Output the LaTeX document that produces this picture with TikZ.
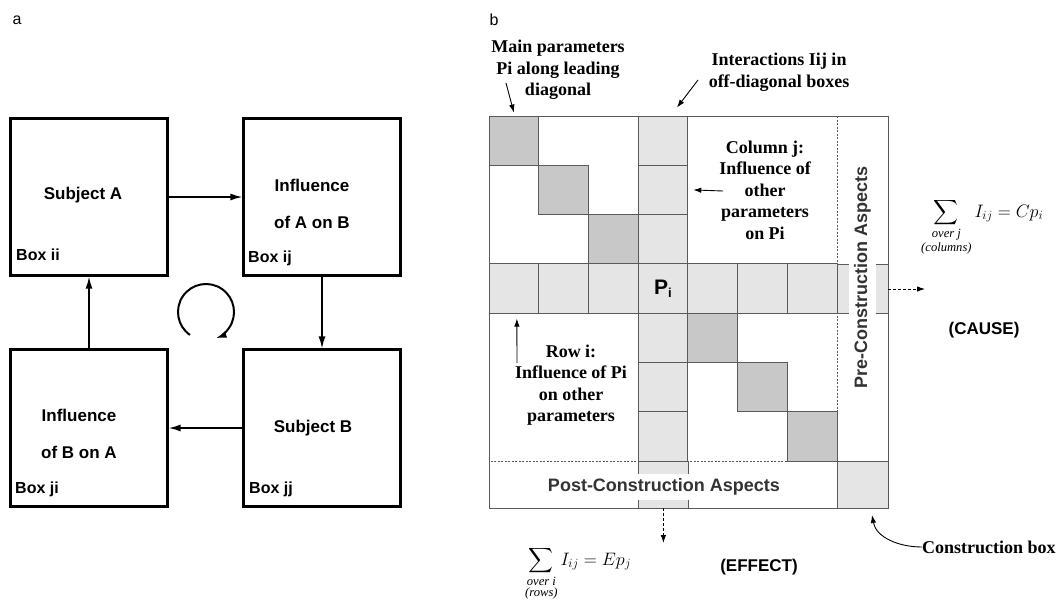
\RequirePackage{fix-cm}
\documentclass[tikz,border=0pt]{standalone}
\usepackage{amsmath}
\usepackage{exscale}
\usepackage{fontspec}
\setmainfont{Liberation Serif}
\setsansfont{Liberation Sans}
\usepackage{tikz}
\usetikzlibrary{arrows.meta}
\definecolor{darkcell}{RGB}{200,200,200}
\definecolor{litecell}{RGB}{229,229,229}
\definecolor{linecol}{RGB}{90,90,90}
\newcommand\gridcell[5]{\node[#4] (#1) at ({489+49.71*(#2+0.5)},{116+49.29*(#3+0.5)}) {#5};}
\newcommand\link[2]{\draw[boxarr] (#1) -- (#2);}

\begin{document}
\begin{tikzpicture}[x=1pt,y=-1pt]
\tikzstyle{bigbox}=[draw,line width=2.2pt,minimum size=157pt,inner sep=0pt]
\tikzstyle{boxtxt}=[font=\sffamily\bfseries\fontsize{17}{37}\selectfont,align=center,inner sep=0pt]
\tikzstyle{boxlbl}=[font=\sffamily\bfseries\fontsize{16}{16}\selectfont,anchor=west,inner sep=0pt]
\tikzstyle{boxarr}=[line width=1.6pt,-{Latex[length=12pt,width=7pt]}]
\tikzstyle{diag}=[draw=linecol,line width=0.9pt,fill=darkcell,minimum width=49.71pt,minimum height=49.29pt,inner sep=0pt]
\tikzstyle{cross}=[diag,fill=litecell]
\tikzstyle{note}=[font=\bfseries\fontsize{18}{21.5}\selectfont,align=center,inner sep=0pt]
\tikzstyle{aspect}=[font=\sffamily\bfseries\fontsize{18}{18}\selectfont,text=black!80,fill=white,inner xsep=4pt,inner ysep=5pt]
\tikzstyle{thinarr}=[line width=0.9pt,-{Latex[length=8pt,width=5.5pt]}]
\tikzstyle{dasharr}=[line width=0.9pt,dash pattern=on 3pt off 2pt,-{Latex[length=8pt,width=5.5pt]}]
\tikzstyle{tag}=[font=\sffamily\bfseries\fontsize{17}{17}\selectfont]
\tikzstyle{sumf}=[anchor=base west,inner sep=0pt,font=\fontsize{18}{20}\selectfont]
\useasboundingbox (0,0) rectangle (1060,603);

% panel a
\node[font=\sffamily\fontsize{16}{16}\selectfont] (taga) at (17,20) {a};
\node[bigbox] (ii) at (89,197) {};
\node[bigbox] (ij) at (322,197) {};
\node[bigbox] (jj) at (322,428) {};
\node[bigbox] (ji) at (89,428) {};
\node[boxtxt] (suba) at (83,195) {Subject A};
\node[boxtxt] (infab) at (312,203.5) {Influence\\of A on B};
\node[boxtxt] (subb) at (313,428) {Subject B};
\node[boxtxt] (infba) at (79,433.5) {Influence\\of B on A};
\node[boxlbl] (lii) at (16,255) {Box ii};
\node[boxlbl] (lij) at (248,258) {Box ij};
\node[boxlbl] (lji) at (15,489) {Box ji};
\node[boxlbl] (ljj) at (249,489) {Box jj};
\link{ii}{ij}
\link{ij}{jj}
\link{jj}{ji}
\link{ji}{ii}
\draw[line width=2pt,-{Latex[length=11pt,width=7pt]}] (206,312) ++(-235:28) arc[start angle=-235,end angle=70,radius=28];

% panel b
\node[font=\sffamily\fontsize{16}{16}\selectfont] (tagb) at (494,20) {b};
\node[draw=linecol,line width=0.9pt,minimum width=399pt,minimum height=392pt,inner sep=0pt] (mat) at (688.5,312) {};
\fill[litecell] (837,264) rectangle (888,313);
\fill[litecell] (638.4,461) rectangle (688.1,508);
\draw[linecol,line width=0.9pt] (837,264) -- (888,264) (837,313) -- (888,313)
  (638.4,461) -- (638.4,508) (688.1,461) -- (688.1,508);
\draw[linecol,line width=0.9pt,dash pattern=on 2pt off 1.5pt] (837,116) -- (837,461) -- (489,461);
\node[cross,minimum width=51pt,minimum height=47pt] (cbox) at (862.5,484.5) {};
\foreach \k in {0,1,2,4,5,6} {
  \gridcell{d\k}{\k}{\k}{diag}{}
  \gridcell{c\k}{3}{\k}{cross}{}
  \gridcell{r\k}{\k}{3}{cross}{}
}
\gridcell{pi}{3}{3}{cross,font=\sffamily\bfseries\fontsize{21}{21}\selectfont}{P\raisebox{-0.3ex}{\fontsize{13}{13}\selectfont i}}
\node[aspect,rotate=90] (pre) at (862.5,277) {Pre-Construction Aspects};
\node[aspect] (post) at (664,487) {Post-Construction Aspects};

\node[note] (mainp) at (558,70) {Main parameters\\Pi along leading\\diagonal};
\node[note] (inter) at (779,72) {Interactions Iij in\\off-diagonal boxes};
\node[note] (colj) at (765,190) {Column j:\\Influence of\\other\\parameters\\on Pi};
\node[note] (rowi) at (571,385) {Row i:\\Influence of Pi\\on other\\parameters};
\coordinate (mptail) at (506,83);
\coordinate (iatail) at (698,80);
\coordinate (cjtail) at (723,191);
\coordinate (ritail) at (517,363);
\draw[thinarr] (mptail) -- ([yshift=3pt]d0.north);
\draw[thinarr] (iatail) -- ([xshift=14pt,yshift=8pt]c0.north);
\draw[thinarr] (cjtail) -- ([xshift=5pt]c1.east);
\draw[thinarr] (ritail) -- ([xshift=3pt,yshift=-5pt]r0.south);

\node[sumf] (cause) at (921,217) {$\displaystyle\sum_{\substack{\textit{over j}\\[1pt]\textit{(columns)}}} I_{ij} = Cp_i$};
\node[tag] (causetag) at (984,330) {(CAUSE)};
\coordinate (causetip) at (925,289);
\draw[dasharr] (mat.east |- causetip) -- (causetip);

\node[sumf] (effect) at (525,565) {$\displaystyle\sum_{\substack{\textit{over i}\\[1pt]\textit{(rows)}}} I_{ij} = Ep_j$};
\node[tag] (effecttag) at (759,567) {(EFFECT)};
\coordinate (efftip) at (663.4,543);
\draw[dasharr] (mat.south -| efftip) -- (efftip);

\node[note,anchor=west] (cblbl) at (922,547) {Construction box};
\coordinate (cbtip) at (872,515);
\draw[thinarr] (cblbl.west) .. controls (898,547) and (876,537) .. (cbtip);
\end{tikzpicture}
\end{document}
